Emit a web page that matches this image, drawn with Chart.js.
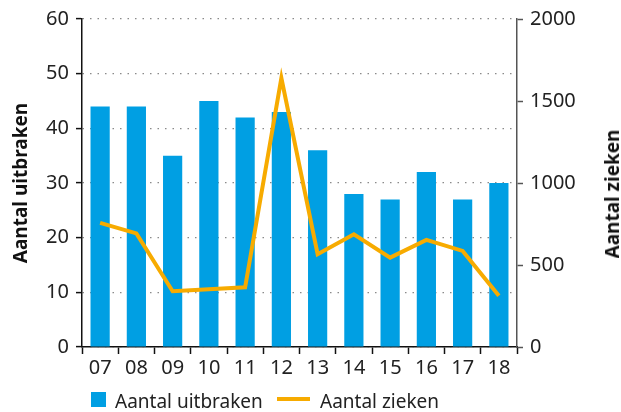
<!DOCTYPE html>
<html>
<head>
<meta charset="utf-8">
<script src="https://cdn.jsdelivr.net/npm/chart.js@4/dist/chart.umd.min.js"></script>
<style>
  html, body { margin: 0; padding: 0; background: #fff; }
  #wrap { position: relative; width: 621px; height: 412px; }
  #legend { position: absolute; left: 91px; top: 388px; font: 19px "Noto Sans", sans-serif; color: #222; }
  #legend span { position: absolute; white-space: nowrap; }
  #rtitle {
    position: absolute; left: 612px; top: 194px;
    transform: translate(-50%, -50%) rotate(-90deg);
    font: bold 19px "Noto Sans", sans-serif; color: #111; white-space: nowrap;
  }
</style>
</head>
<body>
<div id="wrap">
  <canvas id="chart" width="621" height="412"></canvas>
  <div id="legend"></div>
  <div id="rtitle">Aantal zieken</div>
</div>
<script>
// jaartallen 2007-2018
const YEARS = ['07', '08', '09', '10', '11', '12', '13', '14', '15', '16', '17', '18'];
const OUTBREAKS = [44, 44, 35, 45, 42, 43, 36, 28, 27, 32, 27, 30];
const PATIENTS = [757, 693, 340, 352, 364, 1640, 566, 687, 545, 653, 586, 313];

const LEFT_TICKS = [0, 10, 20, 30, 40, 50, 60];
const RIGHT_TICKS = [0, 500, 1000, 1500, 2000];

const BLUE = '#009fe3';
const ORANGE = '#f7ab00';
const FONT = '"Noto Sans", sans-serif';

// legend as plain html, chart.js legend can't mix a box and a line nicely
var legend = document.getElementById('legend');
legend.innerHTML =
  '<span style="left:0;top:4px;width:15px;height:15px;background:' + BLUE + '"></span>' +
  '<span style="left:24px;top:0">Aantal uitbraken</span>' +
  '<span style="left:186px;top:9px;width:33px;height:4px;background:' + ORANGE + '"></span>' +
  '<span style="left:229px;top:0">Aantal zieken</span>';

function plain(v) { return String(v); }

new Chart(document.getElementById('chart'), {
  data: {
    labels: YEARS,
    datasets: [
      {
        type: 'line',
        label: 'Aantal zieken',
        data: PATIENTS,
        yAxisID: 'y2',
        borderColor: ORANGE,
        borderWidth: 4,
        borderJoinStyle: 'miter',
        tension: 0,
        pointRadius: 0,
        order: 1,
      },
      {
        type: 'bar',
        label: 'Aantal uitbraken',
        data: OUTBREAKS,
        yAxisID: 'y',
        backgroundColor: BLUE,
        categoryPercentage: 1,
        barPercentage: 0.53,
        order: 2,
      },
    ],
  },
  options: {
    responsive: false,
    animation: false,
    layout: { padding: { top: 17, bottom: 30, left: 0, right: 0 } },
    plugins: { legend: { display: false }, tooltip: { enabled: false } },
    scales: {
      x: {
        offset: true,
        grid: { offset: true, drawOnChartArea: false, tickLength: 7, tickColor: '#111', tickWidth: 1.5 },
        border: { color: '#111', width: 1.5 },
        ticks: { color: '#222', padding: 2, font: { family: FONT, size: 20 } },
        afterFit: function (scale) { scale.height = 35; },
      },
      y: {
        position: 'left',
        min: 0,
        max: 60,
        afterBuildTicks: function (scale) { scale.ticks = LEFT_TICKS.map(function (v) { return { value: v }; }); },
        grid: { color: '#8a8a8a', lineWidth: 1.2, tickLength: 6, tickColor: '#111', tickWidth: 1.5 },
        border: { color: '#111', width: 1.5, dash: [1.5, 6] },
        ticks: { color: '#222', padding: 7, font: { family: FONT, size: 20 }, callback: plain },
        title: { display: true, text: 'Aantal uitbraken', color: '#111', padding: { top: 10 }, font: { family: FONT, size: 19, weight: 'bold' } },
        afterFit: function (scale) { scale.width = 82; },
      },
      y2: {
        position: 'right',
        min: 0,
        max: 2000,
        afterBuildTicks: function (scale) { scale.ticks = RIGHT_TICKS.map(function (v) { return { value: v }; }); },
        grid: { drawOnChartArea: false, tickLength: 6, tickColor: '#555', tickWidth: 1.5 },
        border: { color: '#555', width: 1.5 },
        ticks: { color: '#222', padding: 7, font: { family: FONT, size: 20 }, callback: plain },
        afterFit: function (scale) { scale.width = 104; },
      },
    },
  },
});
</script>
</body>
</html>
